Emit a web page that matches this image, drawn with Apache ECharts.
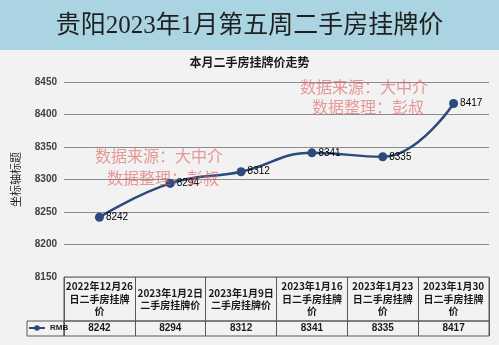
<!DOCTYPE html>
<html><head><meta charset="utf-8">
<script src="https://cdn.jsdelivr.net/npm/echarts@6/dist/echarts.min.js"></script>
<style>html,body{margin:0;padding:0;background:#f2f2f2}#c{width:499px;height:345px}</style>
</head><body><div id="c"></div>
<script>
const mainTitle = '贵阳2023年1月第五周二手房挂牌价';
const subTitle = '本月二手房挂牌价走势';
const yAxisName = '坐标轴标题';
const seriesName = 'RMB';
const categories = ['2022年12月26日二手房挂牌价', '2023年1月2日二手房挂牌价', '2023年1月9日二手房挂牌价', '2023年1月16日二手房挂牌价', '2023年1月23日二手房挂牌价', '2023年1月30日二手房挂牌价'];
const headerLabels = ['2022年12月26\n日二手房挂牌\n价', '2023年1月2日\n二手房挂牌价', '2023年1月9日\n二手房挂牌价', '2023年1月16\n日二手房挂牌\n价', '2023年1月23\n日二手房挂牌\n价', '2023年1月30\n日二手房挂牌\n价'];
const rmb = [8242, 8294, 8312, 8341, 8335, 8417];
const yMin = 8150, yMax = 8450, yInterval = 50;
const watermarkLines = ['数据来源：大中介', '数据整理：彭叔'];

const chart = echarts.init(document.getElementById('c'), null, {renderer: 'canvas'});
const border = '#595959';
const cjk = '"Noto Sans CJK SC", "Liberation Sans", sans-serif';
const wmStyle = {font: '16px "Noto Sans CJK SC", serif', fill: 'rgba(222,90,90,0.6)'};

chart.setOption({
  backgroundColor: '#f2f2f2',
  animation: false,
  title: [
    {text: mainTitle, left: 'center', top: 14, padding: 0,
     textStyle: {fontSize: 25, fontWeight: 'normal', color: '#1f1f1f', fontFamily: '"Liberation Serif", "Noto Sans CJK SC", serif'}},
    {text: subTitle, left: 'center', top: 56, padding: 0,
     textStyle: {fontSize: 12, fontWeight: 'bold', color: '#1a1a1a', fontFamily: cjk}}
  ],
  graphic: [
    {type: 'rect', z: -10, shape: {x: 0, y: 0, width: 499, height: 50}, style: {fill: '#aad4e2'}},
    {type: 'text', z: 100, left: 95, top: 148, style: Object.assign({text: watermarkLines[0]}, wmStyle)},
    {type: 'text', z: 100, left: 107, top: 170, style: Object.assign({text: watermarkLines[1]}, wmStyle)},
    {type: 'text', z: 100, left: 300, top: 79, style: Object.assign({text: watermarkLines[0]}, wmStyle)},
    {type: 'text', z: 100, left: 312, top: 99, style: Object.assign({text: watermarkLines[1]}, wmStyle)}
  ],
  legend: {
    data: [seriesName], left: 28, top: 324, padding: 0, itemWidth: 16, itemHeight: 7,
    textStyle: {fontSize: 8, fontWeight: 'bold', color: '#1a1a1a', fontFamily: '"Liberation Sans", sans-serif'}
  },
  grid: [
    {left: 64, right: 10, top: 82, height: 195, containLabel: false},
    {left: 64, right: 10, top: 277, height: 44, show: true, borderColor: border, borderWidth: 1},
    {left: 64, right: 10, top: 321, height: 15, show: true, borderColor: border, borderWidth: 1},
    {left: 27, width: 37, top: 321, height: 15, show: true, borderColor: border, borderWidth: 1}
  ],
  xAxis: [
    {gridIndex: 0, type: 'category', data: categories, boundaryGap: true, show: false},
    {gridIndex: 1, type: 'category', data: categories, boundaryGap: true, position: 'top',
     axisLine: {show: false}, axisTick: {show: false},
     splitLine: {show: true, interval: 0, lineStyle: {color: border, width: 1}},
     axisLabel: {inside: true, interval: 0, margin: 22, verticalAlign: 'middle', align: 'center',
       formatter: (v, i) => headerLabels[i], fontSize: 10, fontWeight: 'bold', lineHeight: 12.5,
       color: '#1a1a1a', fontFamily: cjk}},
    {gridIndex: 2, type: 'category', data: categories, boundaryGap: true, position: 'top',
     axisLine: {show: false}, axisTick: {show: false},
     splitLine: {show: true, interval: 0, lineStyle: {color: border, width: 1}},
     axisLabel: {inside: true, interval: 0, margin: 7.5, verticalAlign: 'middle', align: 'center',
       formatter: (v, i) => String(rmb[i]), fontSize: 10, fontWeight: 'bold',
       color: '#1a1a1a', fontFamily: '"Liberation Sans", sans-serif'}},
    {gridIndex: 3, type: 'category', data: [seriesName], show: false}
  ],
  yAxis: [
    {gridIndex: 0, type: 'value', min: yMin, max: yMax, interval: yInterval,
     name: yAxisName, nameLocation: 'middle', nameRotate: 90, nameGap: 43,
     nameTextStyle: {fontSize: 11, color: '#222', fontFamily: cjk},
     axisLine: {show: false}, axisTick: {show: false},
     axisLabel: {margin: 7, fontSize: 10, fontWeight: 'bold', color: '#404040', fontFamily: '"Liberation Sans", sans-serif',
       formatter: v => String(v)},
     splitLine: {show: true, lineStyle: {color: '#8c8c8c', width: 1}}},
    {gridIndex: 1, type: 'value', show: false},
    {gridIndex: 2, type: 'value', show: false},
    {gridIndex: 3, type: 'value', show: false}
  ],
  series: [{
    name: seriesName, type: 'line', xAxisIndex: 0, yAxisIndex: 0, data: rmb,
    smooth: 0.45, symbol: 'circle', symbolSize: 9,
    lineStyle: {width: 2.5, color: '#2a4b7c'}, itemStyle: {color: '#2a4b7c'},
    label: {show: true, position: 'right', distance: 2, fontSize: 10, color: '#000', fontFamily: '"Liberation Sans", sans-serif'}
  }]
});
</script></body></html>
